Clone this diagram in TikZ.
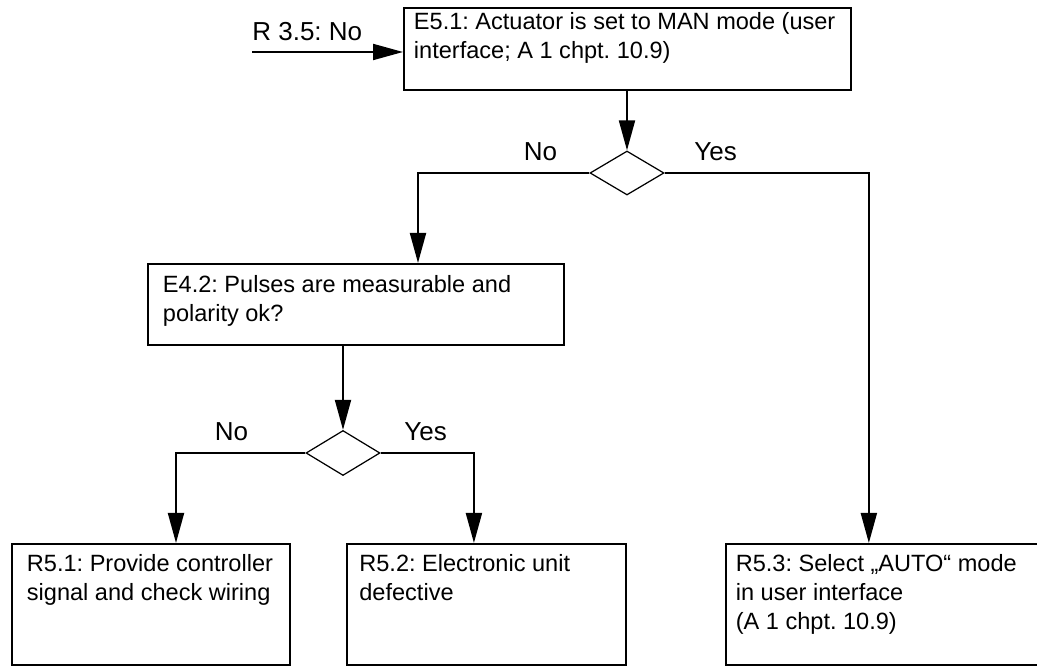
\documentclass[tikz,border=0pt]{standalone}
\usepackage{fontspec}
\setmainfont{Liberation Sans}
\usepackage{tikz}
\usetikzlibrary{arrows.meta,shapes.geometric,positioning,calc}
\frenchspacing

\newcommand{\boxfont}{\fontsize{13.4}{16.5}\selectfont}
\newcommand{\lblfont}{\fontsize{14.8}{17}\selectfont}
\newcommand{\boxtext}[3]{\parbox[t][#2][t]{#1}{\raggedright #3}}

\begin{document}
\begin{tikzpicture}[
  stepbox/.style={rectangle, draw=black, line width=1.1pt, fill=white, font=\boxfont, inner xsep=0.2cm, inner ysep=0.2cm},
  decision/.style={diamond, draw=black, line width=0.7pt, fill=white, minimum width=1.48cm, minimum height=0.88cm, inner sep=0pt},
  lbl/.style={font=\lblfont, inner sep=0pt},
  arr/.style={-{Triangle[length=0.6cm, width=0.32cm]}, line width=1.1pt, draw=black}
]
\useasboundingbox (0,0) rectangle (20.74,-13.32);
\node[stepbox, anchor=north west, inner ysep=0.08cm] (e51) at (8.06,-0.14)
  {\boxtext{8.54cm}{1.48cm}{E5.1: Actuator is set to MAN mode (user\\interface; A 1 chpt. 10.9)}};
\node[decision] (d1) at (12.54,-3.46) {};
\node[stepbox, anchor=north west, inner xsep=0.3cm, inner ysep=0.22cm] (e42) at (2.94,-5.26)
  {\boxtext{7.72cm}{1.18cm}{E4.2: Pulses are measurable and\\polarity ok?}};
\node[decision, minimum height=0.9cm] (d2) at (6.86,-9.06) {};
\node[stepbox, anchor=north west, inner xsep=0.3cm] (r51) at (0.22,-10.86)
  {\boxtext{4.96cm}{2.02cm}{R5.1: Provide controller\\signal and check wiring}};
\node[stepbox, inner xsep=0.25cm, right=1.1cm of r51] (r52)
  {\boxtext{5.08cm}{2.02cm}{R5.2: Electronic unit\\defective}};
\node[stepbox, right=1.96cm of r52] (r53)
  {\boxtext{5.88cm}{2.02cm}{R5.3: Select „AUTO“ mode\\in user interface\\(A 1 chpt. 10.9)}};
\coordinate (start) at (5.04,-1.04);
\node[lbl, anchor=base west] (r35) at ([yshift=0.22cm]start) {R 3.5: No};
\draw[arr] (start) -- (start -| e51.west);
\draw[arr] (d1 |- e51.south) -- (d1.north);
\draw[arr] (d1.west) -| ([xshift=5.42cm]e42.north west);
\draw[arr] (d1.east) -| ([xshift=2.88cm]r53.north west);
\node[lbl, anchor=base] (no1) at ([xshift=-0.98cm, yshift=0.24cm]d1.west) {No};
\node[lbl, anchor=base] (yes1) at ([xshift=1.02cm, yshift=0.24cm]d1.east) {Yes};
\draw[arr] (d2 |- e42.south) -- (d2.north);
\draw[arr] (d2.west) -| ([xshift=3.3cm]r51.north west);
\draw[arr] (d2.east) -| ([xshift=2.56cm]r52.north west);
\node[lbl, anchor=base] (no2) at ([xshift=-1.48cm, yshift=0.24cm]d2.west) {No};
\node[lbl, anchor=base] (yes2) at ([xshift=0.9cm, yshift=0.24cm]d2.east) {Yes};
\end{tikzpicture}
\end{document}
